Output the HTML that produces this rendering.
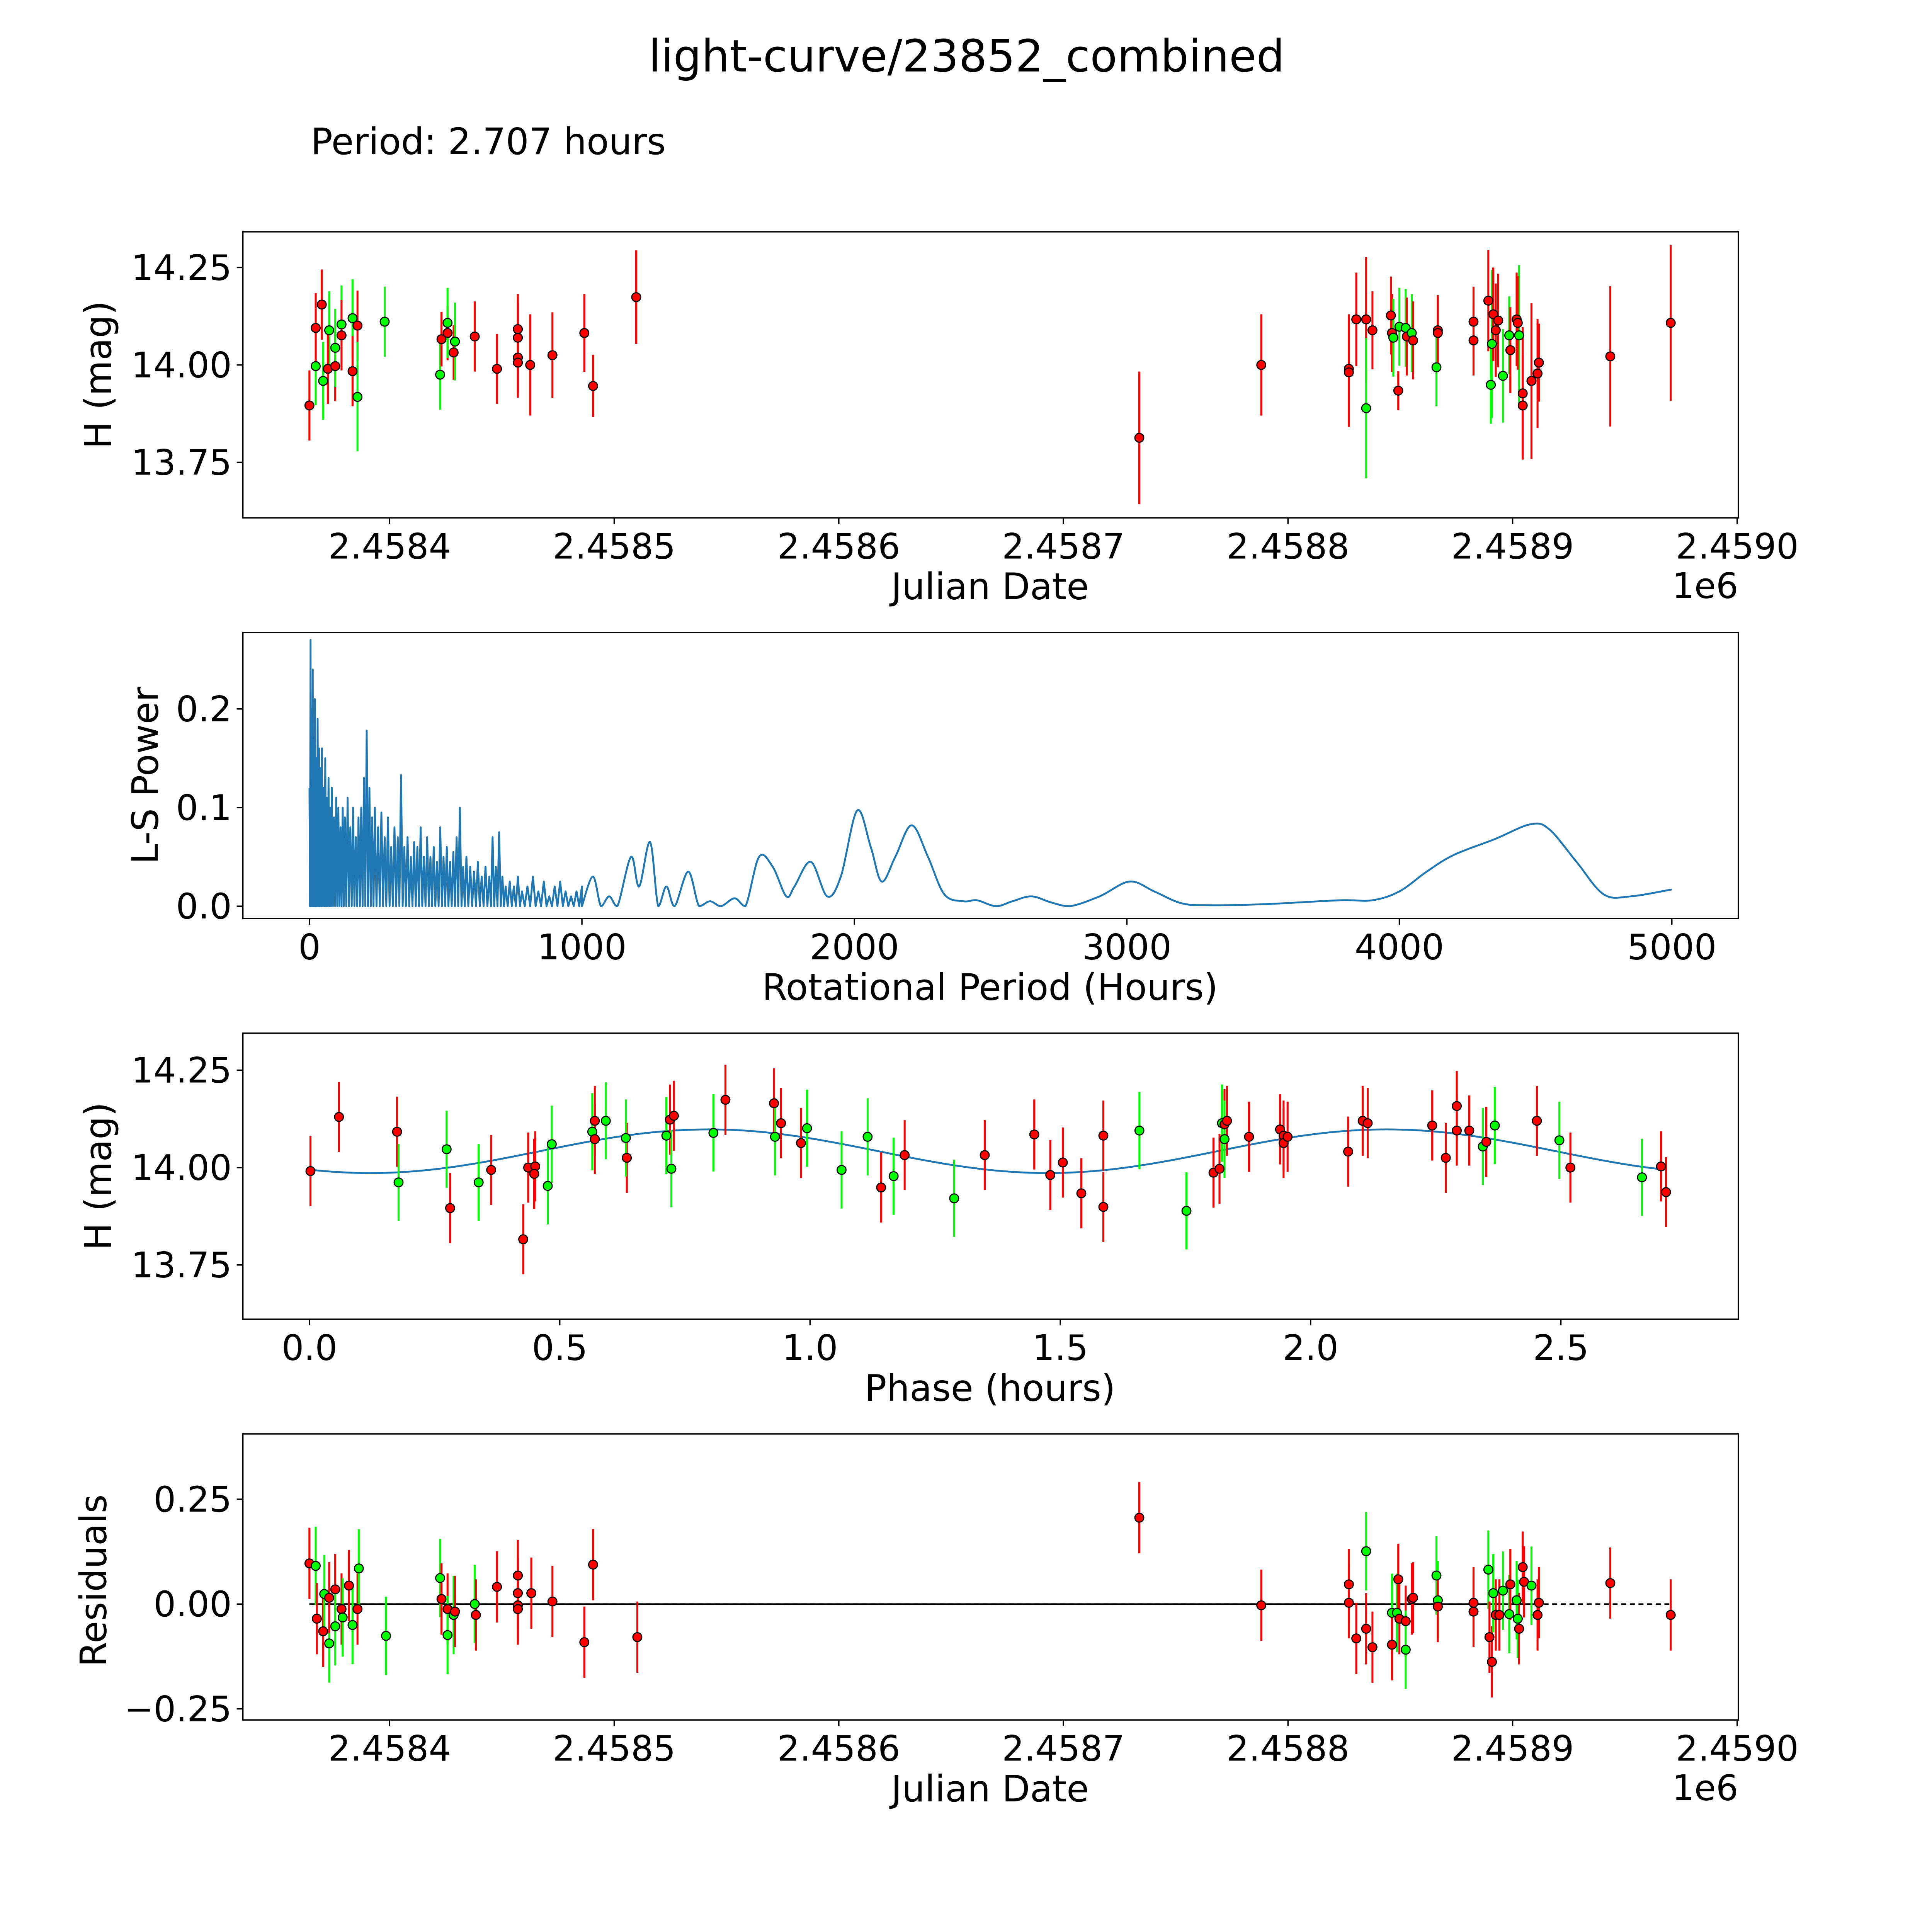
<!DOCTYPE html>
<html><head><meta charset="utf-8">
<style>html,body{margin:0;padding:0;background:#fff;overflow:hidden;width:100%;height:100%}svg{display:block;position:fixed;left:0;top:0;width:100vw;height:100vh}text{font-family:"DejaVu Sans","Liberation Sans",sans-serif;fill:#000}</style>
</head><body>
<svg id="fig" xmlns="http://www.w3.org/2000/svg" viewBox="0 0 1567 1567" preserveAspectRatio="none">
<rect width="1567" height="1567" fill="#fff"/>
<text x="784" y="58" font-size="36" text-anchor="middle">light-curve/23852_combined</text>
<text x="252" y="125" font-size="29.5">Period: 2.707 hours</text>
</svg>
<script>
// ---------- data: panel 1 (JD - 2458000, mag, color) ----------
const lcJd=[364.3,367.1,367.1,369.8,370.4,373.1,372.5,375.8,375.8,378.6,378.6,383.5,383.5,385.7,385.7,397.8,422.5,423.1,425.8,425.8,428.5,429.1,437.9,447.8,457.1,457.1,457.1,457.1,462.6,472.5,486.7,490.6,509.8,733.8,788.1,827.1,827.1,830.4,834.8,834.8,837.6,845.8,846.3,846.9,849.1,849.6,852.4,852.9,855.1,855.7,866.1,866.7,866.7,882.6,882.6,889.2,890.3,890.8,891.4,892.5,893.6,895.7,898.5,899.0,901.8,902.9,902.3,904.5,904.5,908.4,911.1,911.7,943.5,970.4];
const lcMag=[13.896,13.997,14.095,14.155,13.959,14.089,13.990,13.997,14.044,14.104,14.076,14.120,13.984,14.101,13.918,14.111,13.975,14.066,14.082,14.108,14.032,14.060,14.073,13.990,14.092,14.070,14.019,14.006,14.000,14.025,14.082,13.946,14.174,13.813,14.000,13.990,13.981,14.117,14.117,13.889,14.089,14.127,14.082,14.070,13.934,14.098,14.095,14.073,14.082,14.063,13.994,14.089,14.082,14.111,14.063,14.165,13.949,14.054,14.130,14.089,14.114,13.972,14.076,14.038,14.117,14.076,14.108,13.896,13.927,13.959,13.978,14.006,14.022,14.108];
const lcColors=["r","g","r","r","g","g","r","r","g","g","r","g","r","r","g","g","g","r","r","g","r","g","r","r","r","r","r","r","r","r","r","r","r","r","r","r","r","r","r","g","r","r","r","g","r","g","g","r","g","r","g","r","r","r","r","r","g","g","r","r","r","g","g","r","r","g","r","r","r","r","r","r","r","r"];
const lcErr=[0.09,0.1,0.09,0.09,0.1,0.1,0.09,0.09,0.1,0.1,0.09,0.1,0.09,0.09,0.14,0.09,0.09,0.07,0.07,0.09,0.07,0.1,0.09,0.09,0.09,0.09,0.09,0.09,0.13,0.11,0.1,0.08,0.12,0.17,0.13,0.14,0.14,0.12,0.16,0.18,0.1,0.1,0.1,0.1,0.05,0.1,0.1,0.1,0.1,0.1,0.1,0.09,0.09,0.09,0.09,0.13,0.1,0.19,0.12,0.12,0.12,0.12,0.1,0.11,0.12,0.18,0.12,0.13,0.17,0.2,0.14,0.1,0.18,0.2];
// ---------- periodogram ----------
const spikeP=[0,4,8,12,16,20,25,30,35,40,46,52,58,64,70,76,82,90,98,106,114,122,130,140,150,160,170,180,190,200,210,220,230,240,252,264,276,288,300,312,324,336,348,360,372,384,396,408,420,432,444,456,468,480,492,504,516,528,540,552,564,576,590,604,618,632,646,660,672,684,696,708,720,735,750,765,780,800,820,840,860,880,900,920,940,960,980,1000];
const spikePow=[0.12,0.27,0.2,0.24,0.17,0.21,0.15,0.19,0.16,0.14,0.16,0.12,0.15,0.11,0.13,0.1,0.12,0.09,0.11,0.1,0.08,0.1,0.09,0.11,0.08,0.1,0.07,0.09,0.1,0.13,0.178,0.12,0.09,0.1,0.08,0.095,0.07,0.09,0.06,0.08,0.07,0.133,0.06,0.07,0.05,0.065,0.06,0.08,0.05,0.07,0.05,0.06,0.045,0.08,0.05,0.06,0.045,0.055,0.07,0.1,0.04,0.05,0.04,0.035,0.045,0.03,0.04,0.03,0.07,0.04,0.075,0.03,0.02,0.025,0.02,0.03,0.015,0.02,0.03,0.015,0.025,0.01,0.02,0.025,0.015,0.01,0.015,0.02];
const smoothP=[1000,1040,1070,1100,1130,1180,1210,1250,1280,1310,1340,1390,1430,1470,1510,1560,1600,1650,1700,1750,1780,1840,1900,1950,2010,2060,2100,2150,2210,2270,2330,2400,2450,2520,2580,2650,2720,2790,2900,3010,3100,3200,3300,3500,3780,3900,4000,4100,4200,4350,4480,4550,4650,4750,4850,5000];
const smoothPow=[0,0.03,0,0.01,0,0.05,0.02,0.065,0,0.02,0,0.035,0,0.005,0,0.008,0,0.05,0.04,0.01,0.02,0.045,0.01,0.03,0.097,0.06,0.025,0.05,0.082,0.05,0.012,0.005,0.006,0,0.005,0.01,0.004,0,0.01,0.025,0.015,0.003,0.001,0.002,0.006,0.006,0.015,0.035,0.052,0.068,0.083,0.078,0.045,0.012,0.01,0.017];
// ---------- phase-folded ----------
const phPhase=[0.002,0.059,0.175,0.178,0.274,0.281,0.338,0.363,0.427,0.437,0.451,0.449,0.476,0.484,0.565,0.570,0.570,0.592,0.634,0.632,0.713,0.720,0.723,0.728,0.807,0.831,0.928,0.930,0.942,0.982,0.994,1.063,1.115,1.142,1.167,1.189,1.288,1.349,1.448,1.480,1.505,1.542,1.586,1.586,1.658,1.752,1.806,1.818,1.823,1.828,1.828,1.833,1.877,1.939,1.946,1.946,1.954,2.075,2.104,2.114,2.243,2.270,2.292,2.292,2.317,2.344,2.351,2.368,2.452,2.497,2.519,2.662,2.700,2.710];
const phMag=[13.991,14.130,14.092,13.962,14.047,13.896,13.962,13.994,13.816,14.000,14.003,13.984,13.953,14.060,14.092,14.073,14.120,14.120,14.025,14.076,14.082,14.123,13.997,14.133,14.089,14.174,14.165,14.079,14.114,14.063,14.101,13.994,14.079,13.949,13.978,14.032,13.921,14.032,14.085,13.981,14.013,13.934,14.082,13.899,14.095,13.889,13.987,13.997,14.114,14.111,14.073,14.120,14.079,14.098,14.082,14.063,14.079,14.041,14.120,14.114,14.108,14.025,14.158,14.095,14.095,14.054,14.066,14.108,14.120,14.070,14.000,13.975,14.003,13.937];
const phColors=["r","r","r","g","g","r","g","r","r","r","r","r","g","g","g","r","r","g","r","g","g","r","g","r","g","r","r","g","r","r","g","g","g","r","g","r","g","r","r","r","r","r","r","r","g","g","r","r","g","r","g","r","r","r","r","r","r","r","r","r","r","r","r","r","r","g","r","g","r","g","r","g","r","r"];
const fitCoef=[14.042,0.056,0.46,1.3535]; // mean, amplitude, phase offset, period (hours)
// ---------- residuals ----------
const resJd=[364.3,367.1,367.6,370.4,370.9,373.1,373.1,375.8,375.8,378.6,379.1,381.9,383.5,385.7,386.3,398.4,422.5,423.1,425.8,425.8,428.5,429.1,437.9,438.4,447.8,457.1,457.1,457.1,457.1,463.1,472.5,486.7,490.6,510.3,733.8,788.1,827.1,827.1,830.4,834.8,834.8,837.6,846.3,846.3,848.5,849.1,849.6,852.4,852.4,855.1,855.7,866.1,866.7,866.7,882.6,882.6,889.2,889.7,890.8,891.4,892.5,894.1,895.7,898.5,899.0,901.8,902.3,902.9,904.5,905.1,908.4,911.1,911.7,943.5,970.4];
const resVal=[0.097,0.091,-0.035,-0.065,0.024,-0.094,0.015,0.035,-0.053,-0.012,-0.032,0.044,-0.050,-0.012,0.085,-0.076,0.062,0.012,-0.012,-0.074,-0.026,-0.018,0,-0.026,0.041,0.068,0.026,-0.003,-0.012,0.026,0.006,-0.091,0.094,-0.079,0.206,-0.003,0.047,0.003,-0.082,0.126,-0.059,-0.103,-0.021,-0.097,-0.021,0.059,-0.035,-0.041,-0.109,0.012,0.015,0.068,0.009,-0.006,0.003,-0.018,0.082,-0.079,-0.138,0.026,-0.026,-0.026,0.032,-0.024,0.047,0.009,-0.035,-0.059,0.088,0.053,0.044,-0.026,0.003,0.050,-0.026];
const resColors=["r","g","r","r","g","g","r","r","g","r","g","r","g","r","g","g","g","r","r","g","g","r","g","r","r","r","r","r","r","r","r","r","r","r","r","r","r","r","r","g","r","r","g","r","g","r","r","r","g","r","r","g","g","r","r","r","g","r","r","g","r","r","g","g","r","g","g","r","r","r","g","r","r","r","r"];

const NS="http://www.w3.org/2000/svg";
const svg=document.getElementById('fig');
function el(tag,attrs,parent){const e=document.createElementNS(NS,tag);for(const k in attrs)e.setAttribute(k,attrs[k]);(parent||svg).appendChild(e);return e;}
function lin(d0,d1,r0,r1){return v=>r0+(v-d0)/(d1-d0)*(r1-r0);}
const COL={r:"#ff0000",g:"#00ff00"};
const TICK_FS=28.5, LABEL_FS=29.5;

function frame(name,x0,y0,x1,y1){
  const r=el('rect',{x:x0,y:y0,width:x1-x0,height:y1-y0,fill:'none',stroke:'#000','stroke-width':1.1});
  
  
}
function xTicks(name,vals,labels,sx,y){
  vals.forEach((v,i)=>{
    const t=el('line',{x1:sx(v),x2:sx(v),y1:y,y2:y+5,stroke:'#000','stroke-width':1.1});
    
    
    const tx=el('text',{x:sx(v),y:y+33,'font-size':TICK_FS,'text-anchor':'middle'});tx.textContent=labels[i];
    
    
  });
}
function yTicks(name,vals,labels,sy,x){
  vals.forEach((v,i)=>{
    const t=el('line',{x1:x-5,x2:x,y1:sy(v),y2:sy(v),stroke:'#000','stroke-width':1.1});
    
    
    const tx=el('text',{x:x-9,y:sy(v)+10,'font-size':TICK_FS,'text-anchor':'end'});tx.textContent=labels[i];
    
    
  });
}
function label(name,txt,x,y,rot){
  const t=el('text',{x:x,y:y,'font-size':LABEL_FS,'text-anchor':'middle'});
  if(rot)t.setAttribute('transform',`rotate(-90 ${x} ${y})`);
  t.textContent=txt;
  
  
}
function points(name,xs,ys,cols,errs,sx,sy,defErr){
  const g=el('g',{});
  
  
  xs.forEach((xv,i)=>{
    const c=COL[cols[i]]||COL.r;
    const e=errs?errs[i]:(cols[i]==='g'?defErr*1.1:defErr);
    const l=el('line',{x1:sx(xv),x2:sx(xv),y1:sy(ys[i]-e),y2:sy(ys[i]+e),stroke:c,'stroke-width':1.6},g);
    
    
  });
  xs.forEach((xv,i)=>{
    const c=COL[cols[i]]||COL.r;
    const p=el('circle',{cx:sx(xv),cy:sy(ys[i]),r:3.6,fill:c,stroke:'#000','stroke-width':0.9},g);
    
    
  });
}

const jdTicks=[400,500,600,700,800,900,1000];
const jdLabels=["2.4584","2.4585","2.4586","2.4587","2.4588","2.4589","2.4590"];

// Panel 1
{
  const sx=lin(400,1000,316,1409), sy=lin(14.0,14.25,296,217);
  frame('light-curve',197,188,1410,420);
  points('light-curve',lcJd,lcMag,lcColors,lcErr,sx,sy,0.09);
  xTicks('light-curve',jdTicks,jdLabels,sx,420);
  yTicks('light-curve',[13.75,14.0,14.25],["13.75","14.00","14.25"],sy,197);
  label('light-curve-x-title','Julian Date',803,486,false);
  label('light-curve-y-title','H (mag)',90,304,true);
  const o=el('text',{x:1383,y:485,'font-size':TICK_FS,'text-anchor':'middle'});o.textContent='1e6';
  
  
}
// Panel 2
{
  const sx=lin(0,5000,251,1356), sy=lin(0,0.1,735,655);
  frame('periodogram',197,513,1410,745);
  let d='';
  spikeP.forEach((p,i)=>{d+=(i?'L':'M')+sx(p)+','+sy(spikePow[i]);if(i<spikeP.length-1){d+='L'+sx((p+spikeP[i+1])/2)+','+sy(0);}});
  const pts=smoothP.map((p,i)=>[sx(p),sy(smoothPow[i])]);
  d+='L'+pts[0][0]+','+pts[0][1];
  for(let i=0;i<pts.length-1;i++){
    const p0=pts[Math.max(0,i-1)],p1=pts[i],p2=pts[i+1],p3=pts[Math.min(pts.length-1,i+2)];
    const c1=[p1[0]+(p2[0]-p0[0])/6,p1[1]+(p2[1]-p0[1])/6];
    const c2=[p2[0]-(p3[0]-p1[0])/6,p2[1]-(p3[1]-p1[1])/6];
    d+=`C${c1[0]},${Math.min(c1[1],735)} ${c2[0]},${Math.min(c2[1],735)} ${p2[0]},${p2[1]}`;
  }
  const pl=el('path',{d:d,fill:'none',stroke:'#1f77b4','stroke-width':1.5,'stroke-linejoin':'round'});
  
  
  xTicks('periodogram',[0,1000,2000,3000,4000,5000],["0","1000","2000","3000","4000","5000"],sx,745);
  yTicks('periodogram',[0,0.1,0.2],["0.0","0.1","0.2"],sy,197);
  label('periodogram-x-title','Rotational Period (Hours)',803,811,false);
  label('periodogram-y-title','L-S Power',128,629,true);
}
// Panel 3
{
  const sx=lin(0,0.5,251,454), sy=lin(14.0,14.25,947,868);
  frame('phase-plot',197,838,1410,1070);
  let d='';
  for(let i=0;i<=200;i++){const ph=2.707*i/200;const m=fitCoef[0]+fitCoef[1]*Math.sin(2*Math.PI*(ph-fitCoef[2])/fitCoef[3]);d+=(i?'L':'M')+sx(ph)+','+sy(m);}
  const fl=el('path',{d:d,fill:'none',stroke:'#1f77b4','stroke-width':1.5});
  
  
  points('phase-plot',phPhase,phMag,phColors,null,sx,sy,0.09);
  xTicks('phase-plot',[0,0.5,1,1.5,2,2.5],["0.0","0.5","1.0","1.5","2.0","2.5"],sx,1070);
  yTicks('phase-plot',[13.75,14.0,14.25],["13.75","14.00","14.25"],sy,197);
  label('phase-plot-x-title','Phase (hours)',803,1136,false);
  label('phase-plot-y-title','H (mag)',90,954,true);
}
// Panel 4
{
  const sx=lin(400,1000,316,1409), sy=lin(0,0.25,1301,1216);
  frame('residuals',197,1163,1410,1395);
  const dl=el('line',{x1:sx(364.3),x2:sx(970.4),y1:sy(0),y2:sy(0),stroke:'#000','stroke-width':1.2,'stroke-dasharray':'4,3'});
  
  
  const sl=el('line',{x1:sx(364.3),x2:sx(911.7),y1:sy(0),y2:sy(0),stroke:'#000','stroke-width':1.2});
  
  
  points('residuals',resJd,resVal,resColors,null,sx,sy,0.085);
  xTicks('residuals',jdTicks,jdLabels,sx,1395);
  yTicks('residuals',[-0.25,0,0.25],["\u22120.25","0.00","0.25"],sy,197);
  label('residuals-x-title','Julian Date',803,1461,false);
  label('residuals-y-title','Residuals',86,1282,true);
  const o=el('text',{x:1383,y:1460,'font-size':TICK_FS,'text-anchor':'middle'});o.textContent='1e6';
  
  
}
</script>
</body></html>
